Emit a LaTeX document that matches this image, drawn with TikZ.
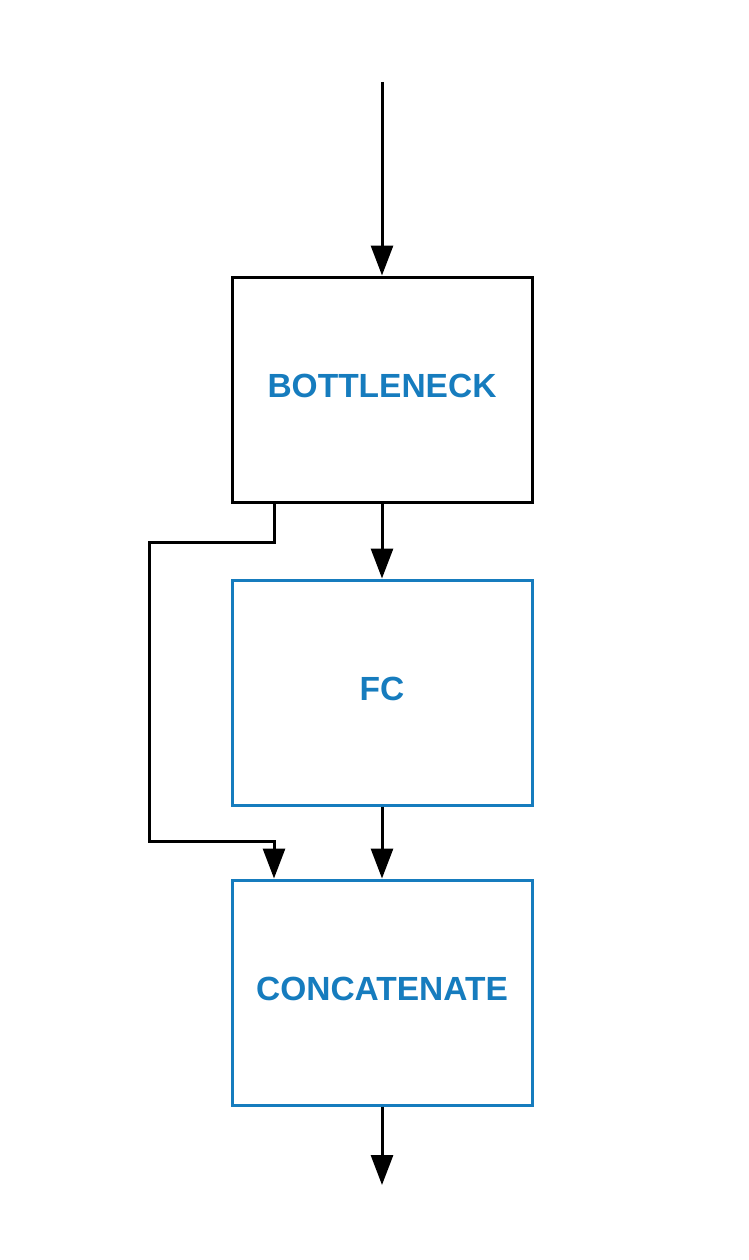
\documentclass[tikz,border=0pt]{standalone}
\usepackage{fontspec}
\setmainfont{Liberation Sans}
\usepackage{xcolor}
\usetikzlibrary{arrows.meta,positioning}
\definecolor{lblue}{RGB}{22,124,190}

\begin{document}
\begin{tikzpicture}[
  x=1pt, y=-1pt,
  blk/.style={rectangle, draw=lblue, line width=3pt, minimum width=300pt,
              minimum height=225pt, inner sep=0pt, text depth=8pt,
              font=\fontsize{33.5}{40}\selectfont\bfseries, text=lblue},
  >={Triangle[length=30pt,width=22pt]}, line width=3pt
]
  \useasboundingbox (0,0) rectangle (748,1260);
  \node[blk, draw=black] (bneck)  at (382,389.5) {BOTTLENECK};
  \node[blk]             (fc)     at (382,692.5) {FC};
  \node[blk]             (concat) at (382,992.5) {CONCATENATE};
  \coordinate (in)  at (382,82);
  \coordinate (out) at (382,1185);
  \draw[->] (in) -- (bneck);
  \draw[->] (bneck) -- (fc);
  \draw[->] (fc) -- (concat);
  \draw[->] (concat) -- (out);
  % skip connection around FC
  \draw[->] ([xshift=-108pt]bneck.south) -- ++(0,39) -| (149,841) -| ([xshift=-108pt]concat.north);
\end{tikzpicture}
\end{document}
